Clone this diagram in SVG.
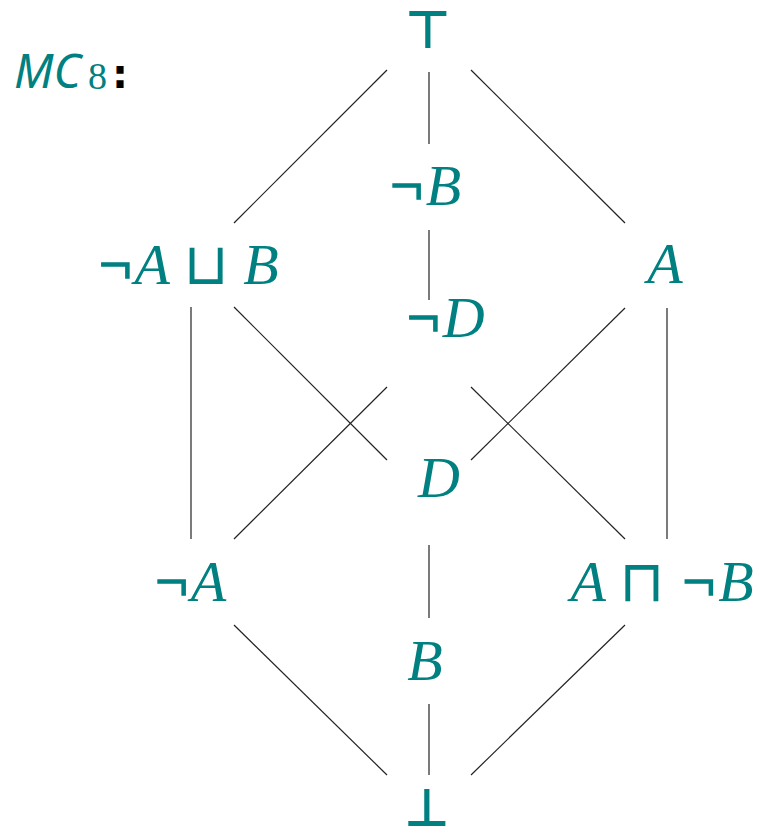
<svg xmlns="http://www.w3.org/2000/svg" width="760" height="837" viewBox="0 0 760 837">
<style>
.m{font-family:"Liberation Serif","DejaVu Serif",serif;font-style:italic;font-size:58px;fill:#008080;text-anchor:middle}
.o{font-family:"DejaVu Sans",sans-serif;font-style:normal}
.n{stroke:#008080;stroke-width:1.6}
.s{font-family:"DejaVu Sans",sans-serif;font-size:50px;fill:#008080;text-anchor:middle;stroke:#008080;stroke-width:2}
.e{stroke:#222;stroke-width:1.2;fill:none}
</style>
<rect width="760" height="837" fill="#fff"/>
<g id="title">
<text x="14" y="88" font-family="Noto Sans,sans-serif" font-style="italic" font-size="47" fill="#008080">MC</text>
<text x="88" y="89" font-family="Liberation Serif,serif" font-size="38" fill="#008080">8</text>
<text x="112" y="88" font-family="DejaVu Sans,sans-serif" font-weight="bold" font-size="40" fill="#000">:</text>
</g>
<g id="connectors">
<line class="e" x1="387" y1="70" x2="234" y2="223"/>
<line class="e" x1="429" y1="72" x2="429" y2="144"/>
<line class="e" x1="471" y1="70" x2="625" y2="223"/>
<line class="e" x1="429" y1="230" x2="429" y2="300"/>
<line class="e" x1="191" y1="307" x2="191" y2="539"/>
<line class="e" x1="234" y1="307" x2="387" y2="460"/>
<line class="e" x1="625" y1="308" x2="471" y2="460"/>
<line class="e" x1="667" y1="308" x2="667" y2="539"/>
<line class="e" x1="387" y1="387" x2="234" y2="539"/>
<line class="e" x1="471" y1="387" x2="625" y2="539"/>
<line class="e" x1="429" y1="545" x2="429" y2="618"/>
<line class="e" x1="234" y1="625" x2="387" y2="775"/>
<line class="e" x1="429" y1="704" x2="429" y2="775"/>
<line class="e" x1="625" y1="625" x2="471" y2="775"/>
</g>
<g id="top"><text class="s" x="428" y="47">⊤</text></g>
<g id="notB"><text class="m" x="424" y="205"><tspan class="n">¬</tspan>B</text></g>
<g id="notAorB"><text class="m" x="187" y="284"><tspan class="n">¬</tspan>A <tspan class="o">⊔</tspan> B</text></g>
<g id="A"><text class="m" x="665" y="283">A</text></g>
<g id="notD"><text class="m" x="444" y="337"><tspan class="n">¬</tspan>D</text></g>
<g id="D"><text class="m" x="439" y="497">D</text></g>
<g id="notA"><text class="m" x="189" y="601"><tspan class="n">¬</tspan>A</text></g>
<g id="AandnotB"><text class="m" x="662" y="601">A <tspan class="o">⊓</tspan> <tspan class="n">¬</tspan>B</text></g>
<g id="B"><text class="m" x="425" y="680">B</text></g>
<g id="bottom"><text class="s" x="427" y="825">⊥</text></g>
</svg>
